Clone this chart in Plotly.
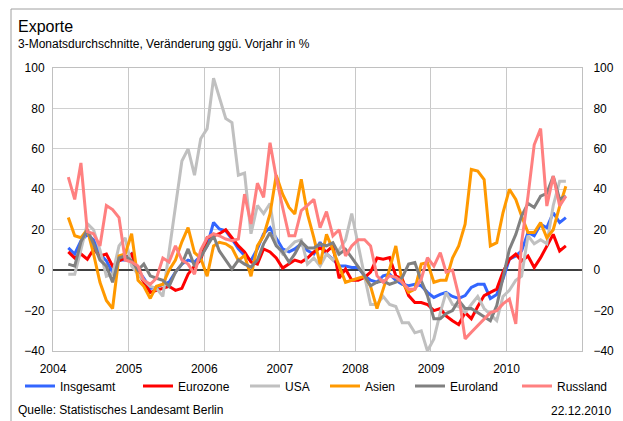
import pandas as pd
import plotly.graph_objects as go

# Monthly observations, March 2004 to October 2010 (plotted mid-month)
months = pd.date_range("2004-03-01", periods=80, freq="MS") + pd.Timedelta(days=14)

insgesamt = [11, 8, 14.5, 17.7, 15, 8, 4.6, -1, 5, 5,
             8, 0, -4, -9, -8.5, -7, -6, -1, 3, 5,
             4, 7, 12, 23.6, 20.4, 19.5, 15.4, 10.5, 7.2, 4.8,
             10.5, 18, 21, 16, 10.5, 9, 10.5, 13, 9.7, 8,
             13.8, 8, 5.4, 2, 2, 1.3, 1.3, -2.8, -5, -6,
             -2.8, -2, -5, -7, -7.7, -7, -7.7, -11, -13.5, -12,
             -11, -13, -14, -12.6, -8.5, -7, -7, -14, -12, -4.4,
             5.4, 7, 9.5, 18.6, 17, 22.7, 21, 28.4, 23.5, 26]

eurozone = [9, 6, 8, 5.4, 10.3, 7, 8, 2, 4.6, 6,
            8, -1, -6, -11, -10, -9, -8, -10, -9, -2,
            2, 5, 16, 17, 18, 20, 16, 12, 9, 4,
            3, 10.5, 9, 6, 1, 3, 5, 4, 6, 9,
            11, 9, 12, -4, 0.5, -5, -5, -3.6, -1, 6,
            5.4, 6.2, -2.8, -4.4, -12.6, -16, -16, -17, -20, -19,
            -22.6, -25, -27, -21, -24, -18, -12.6, -11, -9.4, -1,
            5.4, 7.9, 4.6, 7, 1.3, 6.2, 12, 17.7, 9.5, 12]

usa = [-2, -2, 10, 23, 20, 10, -3, -2, 12, 16,
       2, -2, -5, -8, -9, -13, 9, 31, 54, 60,
       47, 65, 70, 95, 85, 75, 73, 47, 48, 18,
       32, 28, 33, 13, 8, 11, 14, 15, 3, 6,
       2, 8, 5, 10, 15, 28, 12, -3, -17, -17,
       -13, -17, -18, -26, -26, -31, -30, -40, -34, -21,
       -11, -17, -18, -21, -17, -13, -19, -22, -25, -13,
       -10, -5, -3, 17, 13, 15, 13, 32, 44, 44]

asien = [26, 17, 16, 20, 8, -6, -15, -19, 7, 8,
         18, -5, -8, -14, -8, -7, 0, 5, 14, 21,
         8.6, 6, -3, 12, 13.8, 13, 11, 4.8, 7.2, -3,
         12, 17, 27.8, 47, 37.6, 31, 27.8, 45, 27.8, 16,
         3, 17.7, 10, 2, -6, -5, -4, -3, -8, -19,
         -9.4, 0.5, 12, -6, -11, -9.4, 3, 3.8, -6, -5,
         -5, 6, 12, 22.7, 49.8, 49, 44.8, 12, 13.6, 28.4,
         40, 35, 26.8, 18.6, 18.6, 23.5, 16, 20, 31.7, 41.5]

euroland = [3, 2, 14, 20, 13, 5, 2, -6, 6, 7,
            4.6, 0, 3, -2.8, -4, -5, -8, -1, 3, 10.5,
            2, 6.4, 12, 17, 9.5, 5, 0.5, 5, 3, 1.5,
            5, 13, 18.6, 12, 9, 4, 8, 14, 11, 11,
            13, 12, 13.6, 7.9, 10.3, 6.2, 2, -2.8, -7.7, -6,
            -5.3, -7, -6, -3.6, 3, 3.8, -5.3, -12.6, -24, -24,
            -21.5, -20, -15, -19, -19, -21, -23, -25, -17.5, -3,
            10.3, 17.7, 26.8, 33, 31, 36.6, 38, 46.5, 35, 36.6]

russland = [46, 35, 53, 19, 18, 12, 32, 30, 26, 5,
            4, 2, -5, -7, -4, 6, 4, 12, 5, 3,
            -2, 10, 16, 18, 17, 15.4, 14.6, 15.4, 37.6, 22.8,
            43, 36, 63, 45.8, 31, 17, 17, 29.4, 32, 35,
            21, 29, 17, 20, 7, 12, 15, 15, 12, -2.8,
            -6, -2.8, -3.6, -6, -9.4, -9.4, -4.4, 6.2, 2, 8.7,
            -1, 0, -12.6, -34, -30.7, -27.4, -24, -21, -20, -16.7,
            -14.3, -26.6, 13.6, 36.6, 62, 70, 31.7, 46.5, 31.7, 36.6]

series_names = ["Insgesamt", "Eurozone", "USA", "Asien", "Euroland", "Russland"]
series_values = [insgesamt, eurozone, usa, asien, euroland, russland]
series_colors = ["#3366FF", "#FF0000", "#C0C0C0", "#FF9900", "#808080", "#FF8080"]

year_ticks = ["2004", "2005", "2006", "2007", "2008", "2009", "2010"]
y_ticks = [-40, -20, 0, 20, 40, 60, 80, 100]

# Plot-area geometry in pixels (used to place texts and legend entries)
W, H = 623, 421
L, R, T, B = 53, 582, 68, 351


def px(x):
    return (x - L) / (R - L)


def py(y):
    return (B - y) / (B - T)


FONT = "Liberation Sans, Arial, sans-serif"

fig = go.Figure()
legend_x = [20, 138, 245, 325, 410, 517]
for k, (name, vals, col) in enumerate(zip(series_names, series_values, series_colors)):
    lg = "legend" if k == 0 else f"legend{k + 1}"
    fig.add_trace(go.Scatter(
        x=months, y=vals, name=name, mode="lines",
        line=dict(color=col, width=3), legend=lg,
    ))

# invisible companion trace so the right-hand value axis is drawn
fig.add_trace(go.Scatter(x=months, y=insgesamt, yaxis="y2", mode="lines",
                         line=dict(width=0, color="rgba(0,0,0,0)"),
                         showlegend=False, hoverinfo="skip"))

legends = {}
for k in range(6):
    key = "legend" if k == 0 else f"legend{k + 1}"
    legends[key] = dict(
        x=px(legend_x[k]), xanchor="left", y=py(386), yanchor="middle",
        orientation="h", bgcolor="rgba(0,0,0,0)", borderwidth=0,
        font=dict(family=FONT, size=12, color="#000"), itemwidth=30,
    )

axis_font = dict(family=FONT, size=12, color="#000")
fig.update_layout(
    width=W, height=H,
    margin=dict(l=L, r=W - R, t=T, b=H - B, autoexpand=False),
    paper_bgcolor="white", plot_bgcolor="white",
    showlegend=True,
    xaxis=dict(
        type="date", range=["2004-01-01", "2011-01-01"],
        tickvals=[f"{y}-01-01" for y in year_ticks], ticktext=year_ticks,
        showgrid=True, gridcolor="#C8C8C8", gridwidth=1,
        showline=True, linecolor="#C0C0C0", mirror=True,
        ticks="outside", ticklen=7, tickcolor="rgba(0,0,0,0)",
        tickfont=axis_font, fixedrange=True,
    ),
    yaxis=dict(
        range=[-40, 100], tickvals=y_ticks,
        showgrid=True, gridcolor="#D0D0D0", gridwidth=1,
        zeroline=True, zerolinecolor="#404040", zerolinewidth=1.5,
        showline=True, linecolor="#C0C0C0", mirror=True,
        ticks="outside", ticklen=5, tickcolor="rgba(0,0,0,0)",
        tickfont=axis_font,
    ),
    yaxis2=dict(
        range=[-40, 100], tickvals=y_ticks, overlaying="y", side="right",
        showgrid=False, zeroline=False, showline=False,
        ticks="outside", ticklen=8, tickcolor="rgba(0,0,0,0)",
        tickfont=axis_font,
    ),
    **legends,
)

fig.add_annotation(text="Exporte", xref="paper", yref="paper", x=px(16), y=py(26),
                   xanchor="left", yanchor="middle", showarrow=False,
                   font=dict(family=FONT, size=16, color="#000"))
fig.add_annotation(text="3-Monatsdurchschnitte, Veränderung ggü. Vorjahr in %",
                   xref="paper", yref="paper", x=px(16), y=py(44),
                   xanchor="left", yanchor="middle", showarrow=False,
                   font=dict(family=FONT, size=12, color="#000"))
fig.add_annotation(text="Quelle: Statistisches Landesamt Berlin", xref="paper", yref="paper",
                   x=px(16), y=py(410), xanchor="left", yanchor="middle", showarrow=False,
                   font=dict(family=FONT, size=12, color="#000"))
fig.add_annotation(text="22.12.2010", xref="paper", yref="paper",
                   x=px(613), y=py(411), xanchor="right", yanchor="middle", showarrow=False,
                   font=dict(family=FONT, size=12, color="#000"))

# chart-area frame (left and top edges)
fig.add_shape(type="line", xref="paper", yref="paper", x0=px(11), x1=px(11),
              y0=py(9), y1=py(421), line=dict(color="#A0A0A0", width=1))
fig.add_shape(type="line", xref="paper", yref="paper", x0=px(11), x1=px(623),
              y0=py(9), y1=py(9), line=dict(color="#A0A0A0", width=1))

fig.write_html("out.html")
